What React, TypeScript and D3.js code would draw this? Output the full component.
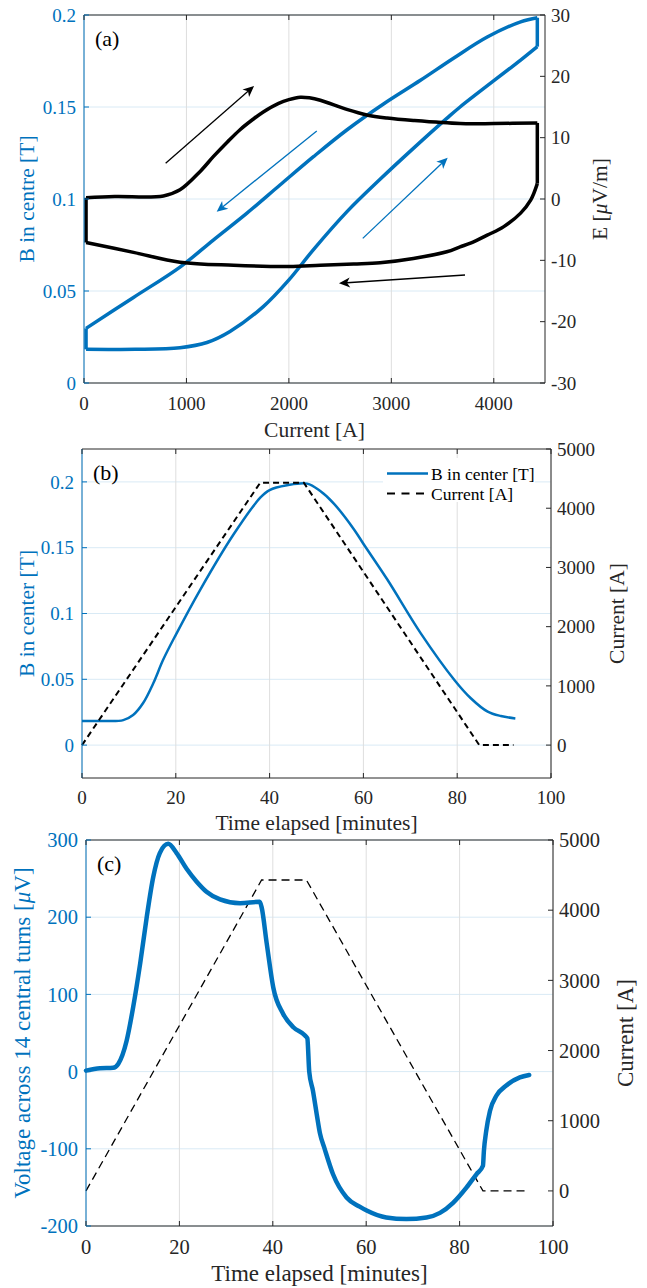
import React from "react";
import * as d3 from "d3";

const BLUE = "#0072bd";
const DARK = "#262626";
const GRID_H = "#d9eaf5";
const GRID_V = "#dedede";
const FONT = "Liberation Serif, DejaVu Serif, serif";

// ---- panel (a): B and E versus current ----
const ticksCurrentA = [0, 1000, 2000, 3000, 4000];
const ticksBA = [0, 0.05, 0.1, 0.15, 0.2];
const ticksEA = [-30, -20, -10, 0, 10, 20, 30];

// [current A, B T]
const bRampUp = [
  [20, 0.0183], [500, 0.0183], [937, 0.0192], [1200, 0.022], [1425, 0.028],
  [1750, 0.0415], [2000, 0.056], [2240, 0.0725], [2565, 0.093], [2890, 0.1107],
  [3215, 0.1275], [3541, 0.1438], [3671, 0.15], [4262, 0.1755], [4425, 0.1828],
];
const bRampDown = [
  [20, 0.0297], [483, 0.0465], [937, 0.063], [1262, 0.0777], [1588, 0.0922],
  [1913, 0.1076], [2240, 0.123], [2565, 0.1375], [2920, 0.1515], [3284, 0.1645],
  [3607, 0.1765], [3936, 0.188], [4262, 0.1963], [4425, 0.1985],
];
// [current A, E uV/m]
const eRampUp = [
  [20, 0.2], [300, 0.4], [775, 0.5], [937, 1.5], [1134, 4.5], [1262, 6.9],
  [1400, 9.3], [1523, 11.3], [1650, 13.0], [1750, 14.2], [1900, 15.6],
  [2000, 16.2], [2111, 16.6], [2200, 16.5], [2307, 16.1], [2565, 14.6],
  [2760, 13.7], [2959, 13.2], [3215, 12.8], [3671, 12.3], [4000, 12.3], [4425, 12.4],
];
const eRampDown = [
  [20, -7.1], [483, -8.7], [937, -10.3], [1460, -10.8], [2000, -11.0],
  [2307, -10.8], [2632, -10.6], [2890, -10.4], [3215, -9.7], [3541, -8.6],
  [3671, -7.8], [3773, -7.2], [3936, -5.9], [4098, -4.5], [4262, -2.3],
  [4360, -0.2], [4425, 2.5],
];
// annotation arrows in (current, B) coordinates
const arrowsA = [
  { from: [797, 0.1194], to: [1660, 0.1614], color: "#000000" },
  { from: [2272, 0.137], to: [1295, 0.0931], color: BLUE },
  { from: [2721, 0.0786], to: [3550, 0.1224], color: BLUE },
  { from: [3719, 0.0587], to: [2489, 0.0542], color: "#000000" },
];

// ---- panel (b): B and current versus time ----
const ticksTime = [0, 20, 40, 60, 80, 100];
const ticksBB = [0, 0.05, 0.1, 0.15, 0.2];
const ticksCurrent = [0, 1000, 2000, 3000, 4000, 5000];
const bTime = [
  [0, 0.0183], [5, 0.0183], [8.8, 0.019], [10.9, 0.0229], [13, 0.0318],
  [15.2, 0.047], [17.3, 0.0648], [20, 0.0838], [25.2, 0.118], [32.3, 0.16],
  [38, 0.188], [40, 0.1938], [43.7, 0.1974], [48, 0.1987], [50.8, 0.193],
  [53.7, 0.1835], [58, 0.1639], [60.1, 0.1524], [65.1, 0.1258], [72.2, 0.0851],
  [79.4, 0.0495], [82.9, 0.0356], [86.5, 0.0254], [89.3, 0.0221], [92.4, 0.0203],
];
const currentTimeB = [[0, 0], [38, 4430], [47.3, 4430], [84.7, 0], [92, 0]];

// ---- panel (c): voltage and current versus time ----
const ticksV = [-200, -100, 0, 100, 200, 300];
const voltTime = [
  [0, 1.3], [3, 4.3], [5.8, 5], [6.9, 10], [8.7, 40], [10.1, 83.5], [11.6, 140],
  [13, 200], [14.4, 252], [15.8, 283], [17.6, 295], [19.4, 283], [21.5, 263],
  [23.7, 246], [25.8, 233], [28.7, 223], [33, 218], [37.2, 220], [37.6, 213],
  [38.7, 166], [40.1, 109], [42.2, 75], [44.4, 57.5], [46.9, 46.8], [47.4, 43],
  [47.8, 0], [48.6, -25], [49.4, -55], [50.1, -80], [51.1, -100], [52.9, -133],
  [55.8, -163], [58.6, -175], [60.1, -180], [64.3, -189], [68.6, -191],
  [72.9, -189], [75.8, -183], [78.6, -170], [81.5, -150], [83.6, -133],
  [85, -122], [85.2, -103], [85.7, -77], [86.5, -51], [87.9, -31], [90, -18],
  [92.9, -7.4], [94.9, -4.3],
];
const currentTimeC = [[0, 0], [37.6, 4430], [47.2, 4430], [85, 0], [94.7, 0]];

type Box = { l: number; r: number; t: number; b: number };

const fmt = (v: number) => String(v);
const txt = { fontFamily: FONT };

function Frame({ box, x, yL, yR, xTicks, yLTicks, yRTicks, xLabel, xTickY, xLabelY,
  leftLabel, leftLabelX, rightLabel, rightLabelX, panel, tickSize = 19, labelSize = 21.5 }: any) {
  const cy = (box.t + box.b) / 2;
  const cx = (box.l + box.r) / 2;
  const tl = 5;
  return (
    <g>
      {/* box */}
      <line x1={box.l} x2={box.r} y1={box.b} y2={box.b} stroke={DARK} />
      <line x1={box.l} x2={box.r} y1={box.t} y2={box.t} stroke={DARK} />
      <line x1={box.r} x2={box.r} y1={box.t} y2={box.b} stroke={DARK} />
      <line x1={box.l} x2={box.l} y1={box.t} y2={box.b} stroke={BLUE} />
      {xTicks.map((v: number) => (
        <g key={"x" + v}>
          <line x1={x(v)} x2={x(v)} y1={box.b} y2={box.b - tl} stroke={DARK} />
          <line x1={x(v)} x2={x(v)} y1={box.t} y2={box.t + tl} stroke={DARK} />
          <text style={txt} x={x(v)} y={xTickY} dy="0.35em" textAnchor="middle" fill={DARK} fontSize={tickSize}>
            {fmt(v)}
          </text>
        </g>
      ))}
      {yLTicks.map((v: number) => (
        <g key={"l" + v}>
          <line x1={box.l} x2={box.l + tl} y1={yL(v)} y2={yL(v)} stroke={BLUE} />
          <text style={txt} x={box.l - 8} y={yL(v)} dy="0.35em" textAnchor="end" fill={BLUE} fontSize={tickSize}>
            {fmt(v)}
          </text>
        </g>
      ))}
      {yRTicks.map((v: number) => (
        <g key={"r" + v}>
          <line x1={box.r} x2={box.r - tl} y1={yR(v)} y2={yR(v)} stroke={DARK} />
          <text style={txt} x={box.r + 6} y={yR(v)} dy="0.35em" textAnchor="start" fill={DARK} fontSize={tickSize}>
            {fmt(v)}
          </text>
        </g>
      ))}
      <text style={txt} x={cx} y={xLabelY} dy="0.35em" textAnchor="middle" fill={DARK} fontSize={labelSize}>
        {xLabel}
      </text>
      <text style={txt} transform={`translate(${leftLabelX},${cy}) rotate(-90)`} dy="0.35em"
        textAnchor="middle" fill={BLUE} fontSize={labelSize}>
        {leftLabel}
      </text>
      <text style={txt} transform={`translate(${rightLabelX},${cy}) rotate(-90)`} dy="0.35em"
        textAnchor="middle" fill={DARK} fontSize={labelSize}>
        {rightLabel}
      </text>
      <text style={txt} x={box.l + 11} y={box.t + 23} dy="0.35em" fill="#000" fontSize={22}>
        {panel}
      </text>
    </g>
  );
}

function Grid({ box, x, yL, xTicks, yLTicks }: any) {
  return (
    <g>
      {yLTicks.map((v: number) => (
        <line key={"h" + v} x1={box.l} x2={box.r} y1={yL(v)} y2={yL(v)} stroke={GRID_H} />
      ))}
      {xTicks.map((v: number) => (
        <line key={"v" + v} x1={x(v)} x2={x(v)} y1={box.t} y2={box.b} stroke={GRID_V} />
      ))}
    </g>
  );
}

function Arrow({ p1, p2, color }: { p1: number[]; p2: number[]; color: string }) {
  const dx = p2[0] - p1[0];
  const dy = p2[1] - p1[1];
  const len = Math.hypot(dx, dy);
  const ux = dx / len, uy = dy / len;
  const nx = -uy, ny = ux;
  const L = 11, W = 5, notch = 3;
  const bx = p2[0] - L * ux, by = p2[1] - L * uy;
  const mx = p2[0] - (L - notch) * ux, my = p2[1] - (L - notch) * uy;
  const head = [
    [p2[0], p2[1]], [bx + W * nx, by + W * ny], [mx, my], [bx - W * nx, by - W * ny],
  ];
  return (
    <g>
      <line x1={p1[0]} y1={p1[1]} x2={mx} y2={my} stroke={color} strokeWidth={1.3} />
      <polygon points={head.map((p) => p.join(",")).join(" ")} fill={color} />
    </g>
  );
}

export default function App() {
  const smooth = d3.curveCatmullRom.alpha(0.5);

  // (a)
  const boxA: Box = { l: 84, r: 545, t: 15, b: 383 };
  const xA = d3.scaleLinear().domain([0, 4500]).range([boxA.l, boxA.r]);
  const yBA = d3.scaleLinear().domain([0, 0.2]).range([boxA.b, boxA.t]);
  const yEA = d3.scaleLinear().domain([-30, 30]).range([boxA.b, boxA.t]);
  const lineB = d3.line<number[]>().x((d) => xA(d[0])).y((d) => yBA(d[1])).curve(smooth);
  const lineE = d3.line<number[]>().x((d) => xA(d[0])).y((d) => yEA(d[1])).curve(smooth);
  const lastBU = bRampUp[bRampUp.length - 1];
  const lastBD = bRampDown[bRampDown.length - 1];
  const lastEU = eRampUp[eRampUp.length - 1];
  const lastED = eRampDown[eRampDown.length - 1];

  // (b)
  const boxB: Box = { l: 82, r: 551, t: 449, b: 778 };
  const xB = d3.scaleLinear().domain([0, 100]).range([boxB.l, boxB.r]);
  const yBB = d3.scaleLinear().domain([-0.025, 0.225]).range([boxB.b, boxB.t]);
  const yIB = d3.scaleLinear().domain([-5000 / 9, 5000]).range([boxB.b, boxB.t]);
  const lineBB = d3.line<number[]>().x((d) => xB(d[0])).y((d) => yBB(d[1])).curve(smooth);
  const lineIB = d3.line<number[]>().x((d) => xB(d[0])).y((d) => yIB(d[1]));

  // (c)
  const boxC: Box = { l: 86, r: 553, t: 840, b: 1226 };
  const xC = d3.scaleLinear().domain([0, 100]).range([boxC.l, boxC.r]);
  const yVC = d3.scaleLinear().domain([-200, 300]).range([boxC.b, boxC.t]);
  const yIC = d3.scaleLinear().domain([-500, 5000]).range([boxC.b, boxC.t]);
  const lineVC = d3.line<number[]>().x((d) => xC(d[0])).y((d) => yVC(d[1])).curve(d3.curveMonotoneX);
  const lineIC = d3.line<number[]>().x((d) => xC(d[0])).y((d) => yIC(d[1]));

  const mu = <tspan fontStyle="italic">μ</tspan>;

  return (
    <svg width={647} height={1288} style={{ position: "absolute", left: 0, top: 0, background: "#fff", fontFamily: FONT }}>
      <rect width={647} height={1288} fill="#fff" />

      {/* ---------- (a) ---------- */}
      <Grid box={boxA} x={xA} yL={yBA} xTicks={ticksCurrentA} yLTicks={ticksBA} />
      <path d={lineB(bRampUp) || ""} fill="none" stroke={BLUE} strokeWidth={3.5} />
      <path d={lineB(bRampDown) || ""} fill="none" stroke={BLUE} strokeWidth={3.5} />
      <line x1={xA(bRampUp[0][0])} y1={yBA(bRampUp[0][1])} x2={xA(bRampDown[0][0])} y2={yBA(bRampDown[0][1])}
        stroke={BLUE} strokeWidth={3.5} />
      <line x1={xA(lastBU[0])} y1={yBA(lastBU[1])} x2={xA(lastBD[0])} y2={yBA(lastBD[1])}
        stroke={BLUE} strokeWidth={3.5} />
      <path d={lineE(eRampUp) || ""} fill="none" stroke="#000" strokeWidth={3.5} />
      <path d={lineE(eRampDown) || ""} fill="none" stroke="#000" strokeWidth={3.5} />
      <line x1={xA(eRampUp[0][0])} y1={yEA(eRampUp[0][1])} x2={xA(eRampDown[0][0])} y2={yEA(eRampDown[0][1])}
        stroke="#000" strokeWidth={3.5} />
      <line x1={xA(lastEU[0])} y1={yEA(lastEU[1])} x2={xA(lastED[0])} y2={yEA(lastED[1])}
        stroke="#000" strokeWidth={3.5} />
      {arrowsA.map((a, i) => (
        <Arrow key={i} color={a.color}
          p1={[xA(a.from[0]), yBA(a.from[1])]} p2={[xA(a.to[0]), yBA(a.to[1])]} />
      ))}
      <Frame box={boxA} x={xA} yL={yBA} yR={yEA} xTicks={ticksCurrentA} yLTicks={ticksBA}
        yRTicks={ticksEA} xTickY={boxA.b + 20} xLabelY={boxA.b + 46} xLabel="Current [A]"
        leftLabel="B in centre [T]" leftLabelX={26} rightLabel={<>E [{mu}V/m]</>} rightLabelX={599}
        panel="(a)" />

      {/* ---------- (b) ---------- */}
      <Grid box={boxB} x={xB} yL={yBB} xTicks={ticksTime} yLTicks={ticksBB} />
      <path d={lineBB(bTime) || ""} fill="none" stroke={BLUE} strokeWidth={2.5} />
      <path d={lineIB(currentTimeB) || ""} fill="none" stroke="#000" strokeWidth={2}
        strokeDasharray="6,4" />
      <Frame box={boxB} x={xB} yL={yBB} yR={yIB} xTicks={ticksTime} yLTicks={ticksBB}
        yRTicks={ticksCurrent} xTickY={boxB.b + 19} xLabelY={boxB.b + 44}
        xLabel="Time elapsed [minutes]" leftLabel="B in center [T]" leftLabelX={26}
        rightLabel="Current [A]" rightLabelX={616} panel="(b)" />
      <g>
        <rect x={383} y={458} width={152} height={44} fill="#fff" />
        <line x1={387} x2={428} y1={473.5} y2={473.5} stroke={BLUE} strokeWidth={2.5} />
        <text style={txt} x={431} y={473.5} dy="0.35em" fontSize={17.5} fill="#000">B in center [T]</text>
        <line x1={387} x2={428} y1={493.5} y2={493.5} stroke="#000" strokeWidth={2}
          strokeDasharray="8,6.5" />
        <text style={txt} x={431} y={493.5} dy="0.35em" fontSize={17.5} fill="#000">Current [A]</text>
      </g>

      {/* ---------- (c) ---------- */}
      <Grid box={boxC} x={xC} yL={yVC} xTicks={ticksTime} yLTicks={ticksV} />
      <path d={lineIC(currentTimeC) || ""} fill="none" stroke="#000" strokeWidth={1.3}
        strokeDasharray="8,5" />
      <path d={lineVC(voltTime) || ""} fill="none" stroke={BLUE} strokeWidth={4.5}
        strokeLinecap="round" strokeLinejoin="round" />
      <Frame box={boxC} x={xC} yL={yVC} yR={yIC} xTicks={ticksTime} yLTicks={ticksV}
        yRTicks={ticksCurrent} xTickY={boxC.b + 21} xLabelY={boxC.b + 47}
        xLabel="Time elapsed [minutes]" tickSize={20.5} labelSize={23}
        leftLabel={<>Voltage across 14 central turns [{mu}V]</>} leftLabelX={22}
        rightLabel="Current [A]" rightLabelX={625} panel="(c)" />
    </svg>
  );
}
